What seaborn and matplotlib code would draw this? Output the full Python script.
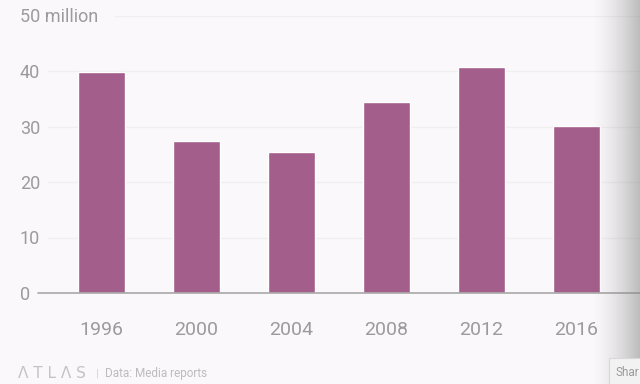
import numpy as np
import pandas as pd
import matplotlib
matplotlib.use("Agg")
import matplotlib.pyplot as plt
import seaborn as sns

# values (millions)
years = ["1996", "2000", "2004", "2008", "2012", "2016"]
viewers = [39.8, 27.4, 25.4, 34.4, 40.8, 30.1]
y_ticks = [0, 10, 20, 30, 40, 50]
y_tick_labels = ["0", "10", "20", "30", "40", "50 million"]

BG = "#faf8fa"
BAR = "#a35e8b"
GRAY = "#9b9b9b"

sns.set_style("white")
plt.rcParams["font.family"] = ["Roboto", "DejaVu Sans"]

df = pd.DataFrame({"year": years, "viewers": viewers})

fig = plt.figure(figsize=(6.4, 3.84), dpi=100, facecolor=BG)
W, H = 640, 384
ax_left, ax_right = 38, 640
ax_bottom, ax_top = 293, 15.5
ax = fig.add_axes([ax_left / W, 1 - ax_bottom / H,
                   (ax_right - ax_left) / W, (ax_bottom - ax_top) / H])
ax.set_facecolor(BG)

sns.barplot(data=df, x="year", y="viewers", color=BAR, width=0.49,
            saturation=1, ax=ax, zorder=3)

ax.set_xlim(-0.668, 5.668)
ax.set_ylim(0, 50)

# light horizontal gridlines
for t in y_ticks[1:]:
    start = 0.128 if t == 50 else 0.017
    ax.axhline(t, xmin=start, xmax=1, color="#f0eef0", lw=0.9, zorder=1)
ax.axhline(0, color="#a8a8a8", lw=1.2, zorder=4, clip_on=False)

for s in ax.spines.values():
    s.set_visible(False)

ax.set_yticks(y_ticks)
ax.set_yticklabels(y_tick_labels, fontsize=13, color=GRAY)
for lab in ax.get_yticklabels():
    lab.set_horizontalalignment("left")
ax.tick_params(axis="y", length=0, pad=13)

ax.tick_params(axis="x", length=12, width=0.8, color="#f1eff1", pad=8,
               labelsize=14, labelcolor=GRAY, direction="out")
ax.set_xlabel("")
ax.set_ylabel("")

# footer
fig.text(18 / W, 1 - 373 / H, "\u039b T L \u039b S", fontsize=11, color="#c4c2c4",
         va="center", ha="left", family=["DejaVu Sans"])
fig.text(96 / W, 1 - 373 / H, "|", fontsize=8, color="#d0cfd0", va="center")
fig.text(105 / W, 1 - 373 / H, "Data: Media reports", fontsize=8.5, color="#bdbbbd",
         va="center", ha="left")

# screenshot shading on the right edge
gx0 = 590
grad = np.linspace(0, 1, 64) ** 1.6
grad_ax = fig.add_axes([gx0 / W, 0, (W - gx0) / W, 1])
rgba = np.zeros((1, 64, 4))
rgba[..., :3] = 0.5
rgba[..., 3] = grad * 0.5
grad_ax.imshow(rgba, aspect="auto", extent=[0, 1, 0, 1])
grad_ax.axis("off")

fig.text(616 / W, 1 - 372 / H, "Shar", fontsize=8.5, color="#9a9a9a", va="center",
         bbox=dict(boxstyle="square,pad=0.6", fc="#f2f2f2", ec="#d8d8d8", lw=0.8))

fig.savefig("out.png", dpi=100, facecolor=BG)
